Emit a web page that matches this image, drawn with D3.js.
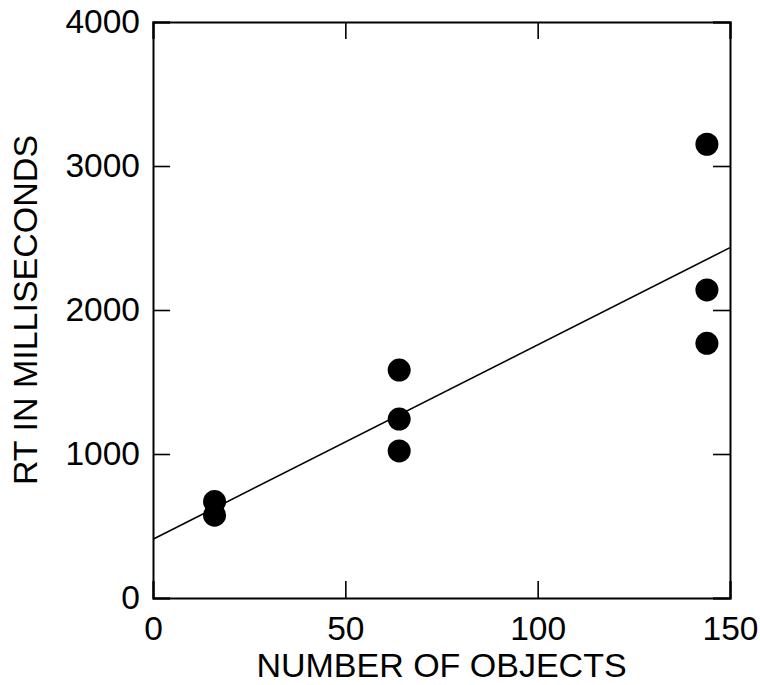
<!DOCTYPE html>
<html>
<head>
<meta charset="utf-8">
<script src="https://cdn.jsdelivr.net/npm/d3@7"></script>
<style>
  html, body { margin: 0; padding: 0; background: #fff; }
  svg { display: block; }
  text { font-family: "Liberation Sans", Arial, sans-serif; fill: #000; }
</style>
</head>
<body>
<svg id="chart" width="760" height="685"></svg>
<script>
const xValues = [16, 16, 64, 64, 64, 144, 144, 144];
const yValues = [670, 575, 1583, 1243, 1021, 3151, 2139, 1769];
const xTicks = [0, 50, 100, 150];
const yTicks = [0, 1000, 2000, 3000, 4000];
const fitIntercept = [408];
const fitSlope = [13.5];
const xLabel = "NUMBER OF OBJECTS";
const yLabel = "RT IN MILLISECONDS";

(function () {
const svg = d3.select("#chart");
const mLeft = 153, mRight = 730, mTop = 22, mBottom = 598;
const x = d3.scaleLinear().domain([0, 150]).range([mLeft, mRight]);
const y = d3.scaleLinear().domain([0, 4000]).range([mBottom, mTop]);
const tickLen = 17;

// fit line
const lineData = [0, 150].map(v => ({x: v, y: fitIntercept[0] + fitSlope[0] * v}));
svg.append("path")
  .attr("d", d3.line().x(d => x(d.x)).y(d => y(d.y))(lineData))
  .attr("stroke", "#000").attr("stroke-width", 1.6).attr("fill", "none");

// points
svg.append("g").selectAll("circle")
  .data(xValues.map((v, i) => ({x: v, y: yValues[i]})))
  .join("circle")
  .attr("cx", d => x(d.x)).attr("cy", d => y(d.y)).attr("r", 11.5)
  .attr("fill", "#000");

// axes (ticks inside, mirrored)
const fmt = d3.format("d");
const gB = svg.append("g").attr("transform", `translate(0,${mBottom})`)
  .call(d3.axisBottom(x).tickValues(xTicks).tickSize(-tickLen).tickPadding(18).tickFormat(fmt));
const gT = svg.append("g").attr("transform", `translate(0,${mTop})`)
  .call(d3.axisTop(x).tickValues(xTicks).tickSize(-tickLen).tickFormat(""));
const gL = svg.append("g").attr("transform", `translate(${mLeft},0)`)
  .call(d3.axisLeft(y).tickValues(yTicks).tickSize(-tickLen).tickPadding(13).tickFormat(fmt));
const gR = svg.append("g").attr("transform", `translate(${mRight},0)`)
  .call(d3.axisRight(y).tickValues(yTicks).tickSize(-tickLen).tickFormat(""));

[gB, gT, gL, gR].forEach(g => {
  g.select(".domain").attr("stroke", "#000").attr("stroke-width", 2);
  g.selectAll(".tick line").attr("stroke", "#000").attr("stroke-width", 1.6);
  g.selectAll(".tick text").attr("font-size", 33.5).attr("font-family", "Liberation Sans, Arial, sans-serif").attr("fill", "#000");
});
gB.selectAll(".tick text").attr("dy", "0.71em");

// axis labels
svg.append("text")
  .attr("x", (mLeft + mRight) / 2).attr("y", 677)
  .attr("text-anchor", "middle").attr("font-size", 34)
  .text(xLabel);
svg.append("text")
  .attr("transform", `translate(37,${(mTop + mBottom) / 2}) rotate(-90)`)
  .attr("text-anchor", "middle").attr("font-size", 34)
  .text(yLabel);
})();
</script>
</body>
</html>
